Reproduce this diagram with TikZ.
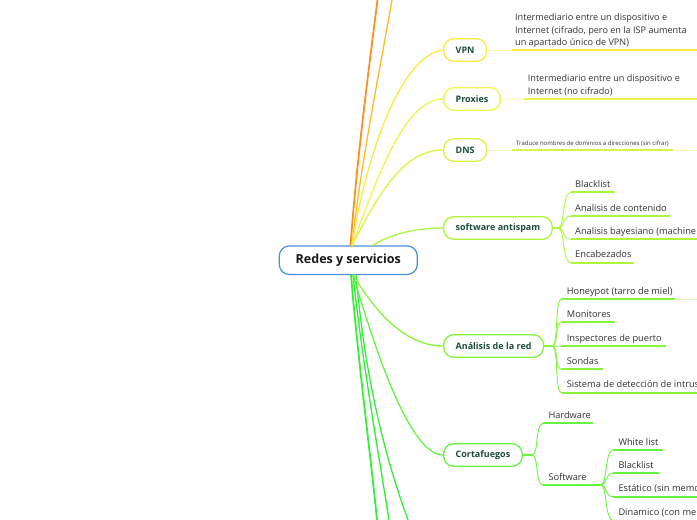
\documentclass[tikz,border=0pt]{standalone}
\usepackage{fontspec}
\setmainfont{Open Sans}
\definecolor{nodegreen}{HTML}{1D4D3B}
\definecolor{leafgray}{HTML}{333333}
\definecolor{cblue}{HTML}{4A90D9}
\definecolor{corange}{HTML}{FF8F1F}
\definecolor{corange2}{HTML}{FFBC20}
\definecolor{cvpn}{HTML}{FFE83C}
\definecolor{cvpnl}{HTML}{FFF6A8}
\definecolor{cprox}{HTML}{EEF54A}
\definecolor{cproxl}{HTML}{F8FBC0}
\definecolor{cdns}{HTML}{D8F545}
\definecolor{cdnsl}{HTML}{F0FAC0}
\definecolor{cspam}{HTML}{AEF53C}
\definecolor{cred}{HTML}{86F53A}
\definecolor{credl}{HTML}{D8FBC0}
\definecolor{cfire}{HTML}{66F540}
\definecolor{cbot}{HTML}{33F03A}
\begin{document}
\begin{tikzpicture}[x=1pt,y=-1pt,
  centre/.style={draw=cblue, line width=1.2pt, rounded corners=10pt, fill=white,
    minimum width=138pt, minimum height=28.5pt, inner sep=0pt,
    font=\fontsize{12.5}{14}\selectfont\bfseries, text=black!90},
  topic/.style={draw=#1, line width=1.3pt, rounded corners=10pt, fill=white,
    minimum height=22.5pt, inner xsep=12pt, inner ysep=0pt,
    font=\fontsize{9}{10}\selectfont\bfseries, text=nodegreen, anchor=west},
  leaf/.style={anchor=base west, inner sep=0pt, font=\fontsize{9.25}{10}\selectfont, text=leafgray},
  desc/.style={anchor=base west, inner sep=0pt, font=\fontsize{9.1}{12.5}\selectfont, text=leafgray, align=left},
  link/.style={line width=1.3pt},
  uline/.style={line width=1.9pt},
  brc/.style={line width=0.9pt},
]
\useasboundingbox (0,0) rectangle (697,520);
\clip (0,0) rectangle (697,520);

% ---- nodes ----
\node[centre] (c) at (348.3,260.2) {Redes y servicios};
\coordinate (ct) at (352,246);
\coordinate (cb) at (353,274.5);

\node[topic=cvpn] (vpn) at (443,50) {VPN};
\node[topic=cprox] (prox) at (443,99) {Proxies};
\node[topic=cdns] (dns) at (443,150) {DNS};
\node[topic=cspam] (spam) at (443,228) {software antispam};
\node[topic=cred] (red) at (443,346) {Análisis de la red};
\node[topic=cfire] (fire) at (443,455) {Cortafuegos};

% ---- top and bottom branches leaving the picture ----
\coordinate (o1) at (377.5,0);
\coordinate (o2) at (392,0);
\draw[corange, line width=1.8pt] (350.5,246) .. controls (356,170) and (366,90) .. (o1);
\draw[corange2, line width=1.3pt] (ct) .. controls (360,170) and (376,90) .. (o2);
\coordinate (b1) at (377,520);
\coordinate (b2) at (389,520);
\coordinate (b3) at (408,520);
\draw[cbot, line width=1.8pt] (351,274.5) .. controls (358,360) and (370,450) .. (b1);
\draw[cbot!80!green, line width=1.3pt] (cb) .. controls (362,360) and (378,450) .. (b2);
\draw[cbot, line width=1.3pt] (356,274.5) .. controls (365,380) and (386,460) .. (b3);

% ---- centre to topics ----
\draw[cvpn, link] (ct) .. controls (365,160) and (400,55) .. (vpn.west);
\draw[cprox, link] (ct) .. controls (378,175) and (405,99) .. (prox.west);
\draw[cdns, link] (ct) .. controls (380,190) and (405,150) .. (dns.west);
\draw[cspam, link] (372,245.5) .. controls (395,232) and (420,228) .. (spam.west);
\draw[cred, link] (cb) .. controls (380,320) and (410,346) .. (red.west);
\draw[cfire, link] (cb) .. controls (375,350) and (410,455) .. (fire.west);

% ---- VPN ----
\coordinate (vpna) at (511.7,50);
\coordinate (vpnb) at (697,50);
\draw[cvpnl, brc] (vpn.east) -- (vpna);
\draw[cvpn, uline] (vpna) -- (vpnb);
\node[desc] (vpnt) at (515,20.5) {Intermediario entre un dispositivo e};
\node[desc] (vpnt2) at (515,33) {Internet (cifrado, pero en la ISP aumenta};
\node[desc] (vpnt3) at (515,45.5) {un apartado único de VPN)};

% ---- Proxies ----
\coordinate (proxa) at (524,99);
\coordinate (proxb) at (697,99);
\draw[cproxl, brc] (prox.east) -- (proxa);
\draw[cprox, uline] (proxa) -- (proxb);
\node[desc] (proxt) at (527.7,81.7) {Intermediario entre un dispositivo e};
\node[desc] (proxt2) at (527.7,94) {Internet (no cifrado)};

% ---- DNS ----
\coordinate (dnsa) at (511.7,150);
\coordinate (dnsb) at (673,150);
\coordinate (dnsc) at (697,150);
\draw[cdnsl, brc] (dns.east) -- (dnsa);
\draw[cdns, uline] (dnsa) -- (dnsb);
\draw[cdnsl, brc] (dnsb) -- (dnsc);
\node[anchor=base west, inner sep=0pt, font=\fontsize{6}{7}\selectfont, text=leafgray] (dnst) at (516,145)
  {Traduce nombres de dominios a direcciones (sin cifrar)};

% ---- software antispam ----
\coordinate (spamb) at (558,228);
\draw[cspam, uline] (spam.east) -- (spamb);
\coordinate (s1a) at (571,192.3); \coordinate (s1b) at (615,192.3);
\coordinate (s2a) at (571,216);   \coordinate (s2b) at (670,216);
\coordinate (s3a) at (571,239.3); \coordinate (s3b) at (697,239.3);
\coordinate (s4a) at (571,262.7); \coordinate (s4b) at (634,262.7);
\draw[cspam, brc] (spamb) .. controls (565,228) and (562,192.3) .. (s1a);
\draw[cspam, brc] (spamb) .. controls (565,228) and (562,216) .. (s2a);
\draw[cspam, brc] (spamb) .. controls (565,228) and (562,239.3) .. (s3a);
\draw[cspam, brc] (spamb) .. controls (565,228) and (562,262.7) .. (s4a);
\draw[cspam, uline] (s1a) -- (s1b);
\draw[cspam, uline] (s2a) -- (s2b);
\draw[cspam, uline] (s3a) -- (s3b);
\draw[cspam, uline] (s4a) -- (s4b);
\node[leaf] (s1) at (575,187.5) {Blacklist};
\node[leaf] (s2) at (575,211.2) {Analisis de contenido};
\node[leaf] (s3) at (575,234.5) {Analisis bayesiano (machine};
\node[leaf] (s4) at (575,257.9) {Encabezados};

% ---- Análisis de la red ----
\coordinate (redb) at (552,346);
\draw[cred, uline] (red.east) -- (redb);
\coordinate (r1a) at (562,299);   \coordinate (r1b) at (675,299); \coordinate (r1c) at (697,299);
\coordinate (r2a) at (562,322.3); \coordinate (r2b) at (615,322.3);
\coordinate (r3a) at (562,346);   \coordinate (r3b) at (665.7,346);
\coordinate (r4a) at (562,369.3); \coordinate (r4b) at (602.7,369.3);
\coordinate (r5a) at (562,392.7); \coordinate (r5b) at (697,392.7);
\draw[cred, brc] (redb) .. controls (559,346) and (554,299) .. (r1a);
\draw[cred, brc] (redb) .. controls (559,346) and (554,322.3) .. (r2a);
\draw[cred, brc] (redb) .. controls (559,346) and (554,346) .. (r3a);
\draw[cred, brc] (redb) .. controls (559,346) and (554,369.3) .. (r4a);
\draw[cred, brc] (redb) .. controls (559,346) and (554,392.7) .. (r5a);
\draw[cred, uline] (r1a) -- (r1b);
\draw[credl, brc] (r1b) -- (r1c);
\draw[cred, uline] (r2a) -- (r2b);
\draw[cred, uline] (r3a) -- (r3b);
\draw[cred, uline] (r4a) -- (r4b);
\draw[cred, uline] (r5a) -- (r5b);
\node[leaf] (r1) at (566.7,294.2) {Honeypot (tarro de miel)};
\node[leaf] (r2) at (566.7,317.5) {Monitores};
\node[leaf] (r3) at (566.7,341.2) {Inspectores de puerto};
\node[leaf] (r4) at (566.7,364.5) {Sondas};
\node[leaf] (r5) at (566.7,387.9) {Sistema de detección de intrus};

% ---- Cortafuegos ----
\coordinate (fireb) at (532,455);
\draw[cfire, uline] (fire.east) -- (fireb);
\coordinate (f1a) at (543,423.3); \coordinate (f1b) at (593,423.3);
\coordinate (f2a) at (543,485);   \coordinate (f2b) at (588,485);
\draw[cfire, brc] (fireb) .. controls (539,455) and (535,423.3) .. (f1a);
\draw[cfire, brc] (fireb) .. controls (539,455) and (535,485) .. (f2a);
\draw[cfire, uline] (f1a) -- (f1b);
\draw[cfire, uline] (f2a) -- (f2b);
\node[leaf] (f1) at (548.3,418.5) {Hardware};
\node[leaf] (f2) at (548.3,480.2) {Software};

\coordinate (swb) at (601,485);
\draw[cfire, uline] (f2b) -- (swb);
\coordinate (w1a) at (613,450);   \coordinate (w1b) at (663,450);
\coordinate (w2a) at (613,473.3); \coordinate (w2b) at (659,473.3);
\coordinate (w3a) at (613,496.7); \coordinate (w3b) at (697,496.7);
\coordinate (w4a) at (613,520.5); \coordinate (w4b) at (697,520.5);
\draw[cfire, brc] (swb) .. controls (607,485) and (605,450) .. (w1a);
\draw[cfire, brc] (swb) .. controls (607,485) and (605,473.3) .. (w2a);
\draw[cfire, brc] (swb) .. controls (607,485) and (605,496.7) .. (w3a);
\draw[cfire, brc] (swb) .. controls (607,485) and (605,520.5) .. (w4a);
\draw[cfire, uline] (w1a) -- (w1b);
\draw[cfire, uline] (w2a) -- (w2b);
\draw[cfire, uline] (w3a) -- (w3b);
\draw[cfire, uline] (w4a) -- (w4b);
\node[leaf] (w1) at (618.3,445.2) {White list};
\node[leaf] (w2) at (618.3,468.5) {Blacklist};
\node[leaf] (w3) at (618.3,491.9) {Estático (sin memo};
\node[leaf] (w4) at (618.3,515.5) {Dinamico (con mem};
\end{tikzpicture}
\end{document}
